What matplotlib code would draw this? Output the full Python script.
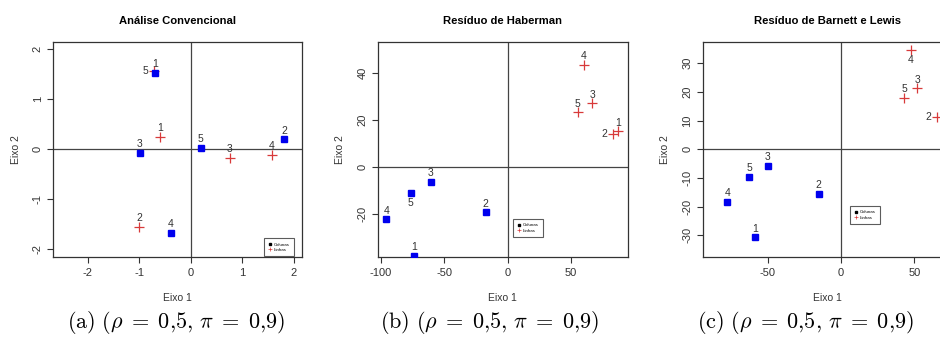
import matplotlib
matplotlib.use('Agg')
import matplotlib.pyplot as plt
from matplotlib.lines import Line2D

plt.rcParams['font.family'] = ['Liberation Sans', 'DejaVu Sans']
plt.rcParams['mathtext.fontset'] = 'cm'
plt.rcParams['axes.unicode_minus'] = False

labels = ['1', '2', '3', '4', '5']

# --- (a) Analise Convencional ---
conv_col_x = [-0.69, 1.82, -0.99, -0.38, 0.20]
conv_col_y = [1.53, 0.20, -0.07, -1.67, 0.03]
conv_row_x = [-0.60, -1.00, 0.76, 1.58, -0.72]
conv_row_y = [0.25, -1.55, -0.17, -0.11, 1.57]

# --- (b) Residuo de Haberman ---
hab_col_x = [-73.5, -17.3, -60.6, -95.6, -76.4]
hab_col_y = [-37.6, -19.1, -6.1, -22.1, -10.9]
hab_row_x = [87.1, 83.1, 66.6, 60.1, 55.1]
hab_row_y = [15.3, 14.3, 27.2, 43.7, 23.4]

# --- (c) Residuo de Barnett e Lewis ---
# linha 1 fica fora do recorte da figura original
bl_col_x = [-58.8, -15.2, -49.8, -77.5, -62.5]
bl_col_y = [-30.7, -15.5, -5.7, -18.3, -9.7]
bl_row_x = [78.0, 65.6, 52.0, 47.5, 42.9]
bl_row_y = [12.5, 11.3, 21.3, 34.5, 18.0]

titles = ['Análise Convencional', 'Resíduo de Haberman', 'Resíduo de Barnett e Lewis']
captions = [r'$\mathrm{(a)}\ (\rho\;=\;0{,}5,\,\pi\;=\;0{,}9)$',
            r'$\mathrm{(b)}\ (\rho\;=\;0{,}5,\,\pi\;=\;0{,}9)$',
            r'$\mathrm{(c)}\ (\rho\;=\;0{,}5,\,\pi\;=\;0{,}9)$']

# label placement (a=above, l=left, b=below)
conv_col_pos = ['a', 'a', 'a', 'a', 'a']
conv_row_pos = ['a', 'a', 'a', 'a', 'l']
hab_col_pos = ['a', 'a', 'a', 'a', 'b']
hab_row_pos = ['a', 'l', 'a', 'a', 'a']
bl_col_pos = ['a', 'a', 'a', 'a', 'a']
bl_row_pos = ['a', 'l', 'a', 'b', 'a']

fig = plt.figure(figsize=(9.4, 3.37), dpi=100)

H = 215.6 / 337
B = 1 - 257.3 / 337
panels = [
    dict(rect=[53.3 / 940, B, 249 / 940, H], xlim=(-2.67, 2.17), ylim=(-2.16, 2.15),
         xt=[-2, -1, 0, 1, 2], yt=[-2, -1, 0, 1, 2],
         cx=conv_col_x, cy=conv_col_y, rx=conv_row_x, ry=conv_row_y,
         cp=conv_col_pos, rp=conv_row_pos, leg=('lower right', (0.965, 0.006)), capx=176),
    dict(rect=[377.7 / 940, B, 250 / 940, H], xlim=(-102.4, 94.5), ylim=(-38.3, 53.4),
         xt=[-100, -50, 0, 50], yt=[-20, 0, 20, 40],
         cx=hab_col_x, cy=hab_col_y, rx=hab_row_x, ry=hab_row_y,
         cp=hab_col_pos, rp=hab_row_pos, leg=('upper left', (0.542, 0.176)), capx=490),
    dict(rect=[702.7 / 940, B, 250 / 940, H], xlim=(-94.3, 76.1), ylim=(-37.7, 37.5),
         xt=[-50, 0, 50], yt=[-30, -20, -10, 0, 10, 20, 30],
         cx=bl_col_x, cy=bl_col_y, rx=bl_row_x, ry=bl_row_y,
         cp=bl_col_pos, rp=bl_row_pos, leg=('upper left', (0.589, 0.238)), capx=805),
]

offsets = {'a': (0, 6.2), 'l': (-6.2, 0), 'b': (0, -7.2)}
red = '#d83a3a'
txt = '#333333'

for p, title, cap in zip(panels, titles, captions):
    ax = fig.add_axes(p['rect'])
    ax.set_xlim(p['xlim'])
    ax.set_ylim(p['ylim'])
    ax.axhline(0, color='#444444', lw=0.9, zorder=1)
    ax.axvline(0, color='#444444', lw=0.9, zorder=1)

    ax.plot(p['rx'], p['ry'], ls='none', marker='+', ms=7, mew=0.9, color=red, zorder=3)
    ax.plot(p['cx'], p['cy'], ls='none', marker='s', ms=4.3, color='#0000ee', zorder=4)

    for lab, x, y, pos in zip(labels, p['rx'], p['ry'], p['rp']):
        ax.annotate(lab, (x, y), xytext=offsets[pos], textcoords='offset points',
                    ha='center', va='center', fontsize=7.5, color=txt, zorder=5)
    for lab, x, y, pos in zip(labels, p['cx'], p['cy'], p['cp']):
        ax.annotate(lab, (x, y), xytext=offsets[pos], textcoords='offset points',
                    ha='center', va='center', fontsize=7.5, color=txt, zorder=5)

    ax.set_xticks(p['xt'])
    ax.set_yticks(p['yt'])
    ax.set_yticklabels([str(v) for v in p['yt']], rotation=90, va='center')
    ax.tick_params(direction='out', length=4.5, width=0.8, labelsize=8, colors='#333333', pad=3)
    for s in ax.spines.values():
        s.set_color('#333333')
        s.set_linewidth(0.9)

    ax.set_title(title, fontsize=8.1, fontweight='bold', pad=13)
    ax.set_xlabel('Eixo 1', fontsize=7.5, color='#333333')
    ax.set_ylabel('Eixo 2', fontsize=7.5, color='#333333')
    ax.xaxis.set_label_coords(0.5, -0.165)
    ax.yaxis.set_label_coords(-0.13, 0.5)

    handles = [Line2D([], [], ls='none', marker='s', ms=1.5, color='black'),
               Line2D([], [], ls='none', marker='+', ms=2.5, mew=0.5, color=red)]
    lg = ax.legend(handles, ['Colunas', 'Linhas'], loc=p['leg'][0], bbox_to_anchor=p['leg'][1],
                   fontsize=3.2, frameon=True, fancybox=False, borderaxespad=0,
                   handlelength=0.8, handletextpad=0.5, borderpad=0.9, labelspacing=0.3)
    lg.get_frame().set_edgecolor('#333333')
    lg.get_frame().set_linewidth(0.8)

    fig.text(p['capx'] / 940, 1 - 322 / 337, cap, ha='center', va='center', fontsize=16)

fig.savefig('out.png', dpi=100)
